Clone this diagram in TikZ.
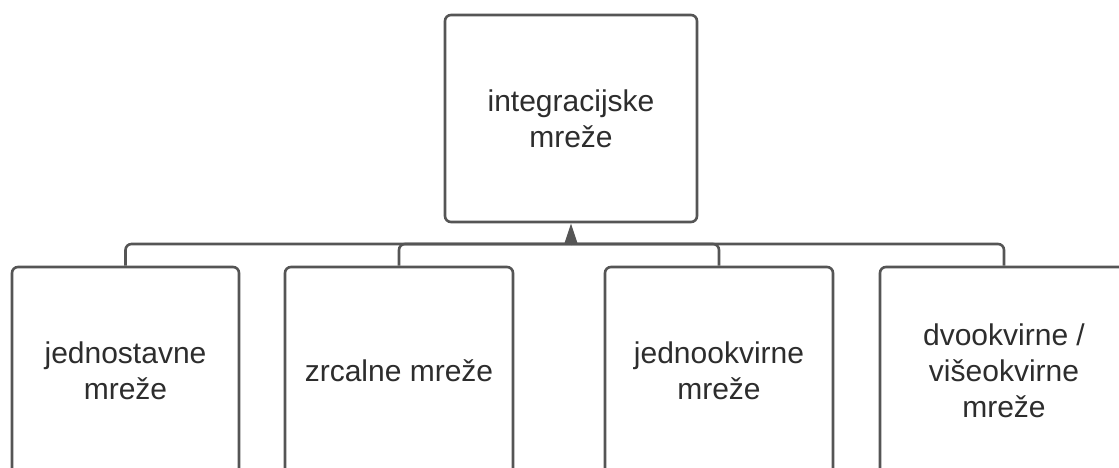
\documentclass[tikz,border=0pt]{standalone}
\usepackage{fontspec}
\setmainfont{Liberation Sans}
\usetikzlibrary{arrows.meta}
\definecolor{linegray}{RGB}{85,85,85}
\definecolor{textgray}{RGB}{45,45,45}
\begin{document}
\begin{tikzpicture}[x=1pt, y=-1pt,
  box/.style={draw=linegray, line width=2.6pt, rounded corners=6pt, fill=white,
    text=textgray, align=center, font=\fontsize{30}{36}\selectfont,
    minimum height=207pt, inner sep=0pt},
  conn/.style={draw=linegray, line width=2.6pt, rounded corners=6pt}]
\clip (0,0) rectangle (1119,468);
\fill[white] (0,0) rectangle (1119,468);
\node[box, minimum width=252pt] (top) at (571,118.5){integracijske\\mreže};
\node[box, minimum width=227pt] (jed) at (125.5,370.5){jednostavne\\mreže};
\node[box, minimum width=228pt] (zrc) at (399,370.5){zrcalne mreže};
\node[box, minimum width=228pt] (jok) at (719,370.5){jednookvirne\\mreže};
\node[box, minimum width=248pt] (dok) at (1004,370.5){dvookvirne /\\višeokvirne\\mreže};
\coordinate (hub) at (571,244);
\draw[conn](jed.north) |- (hub);
\draw[conn](zrc.north) |- (hub);
\draw[conn](jok.north) |- (hub);
\draw[conn](dok.north) |- (hub);
\draw[conn, -{Triangle[width=13pt,length=21pt]}](hub) -- (top.south);

\end{tikzpicture}
\end{document}
